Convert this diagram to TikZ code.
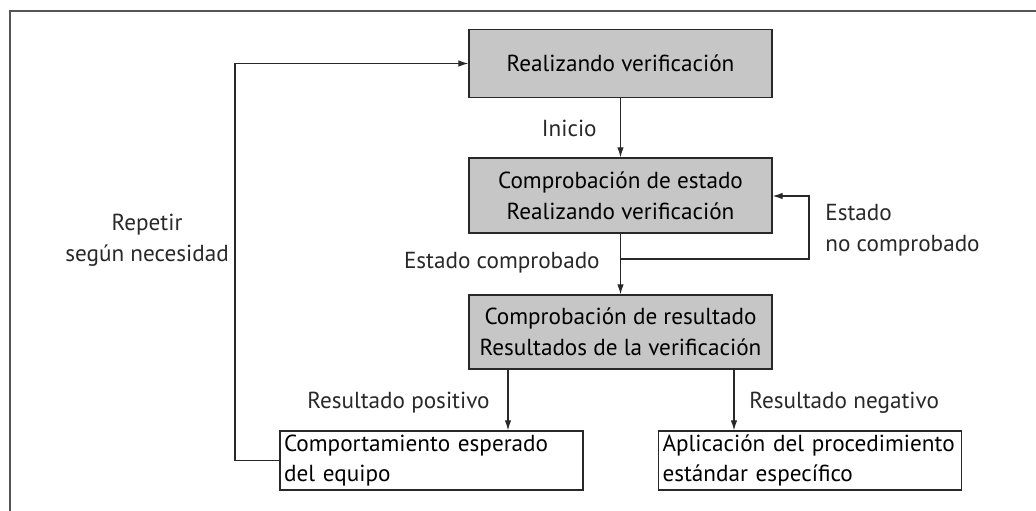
\documentclass[tikz,border=0pt]{standalone}
\usepackage{fontspec}
\setmainfont{PT Sans}
\usetikzlibrary{arrows.meta,positioning,calc}
\definecolor{ink}{RGB}{40,40,40}
\definecolor{frameink}{RGB}{85,85,85}
\definecolor{boxgray}{RGB}{198,198,198}
\newcommand{\diagfont}{\fontsize{13.2}{17.5}\selectfont}
\tikzset{
  stepgray/.style={draw=ink,line width=0.8pt,fill=boxgray,minimum width=6.06cm,
    minimum height=1.5cm,inner sep=2pt,align=center,font=\diagfont},
  outcome/.style={draw=ink,line width=0.8pt,fill=white,minimum width=6.06cm,
    minimum height=1.18cm,text width=5.9cm,inner xsep=0.08cm,inner ysep=0pt,
    align=left,font=\diagfont},
  link/.style={line width=0.6pt,ink},
  arr/.style={link,-{Latex[length=2mm,width=1.3mm]}},
  lbl/.style={font=\diagfont,text=ink,inner sep=0pt},
  frameline/.style={line width=1.2pt,frameink},
}

\begin{document}
\begin{tikzpicture}[x=0.02cm,y=-0.02cm]
  \useasboundingbox (0,0) rectangle (1036,511);
  \draw[frameline] (10,511) |- (1036,11);
  % boxes
  \node[stepgray,minimum height=1.36cm] (check) at (620.5,63.5) {Realizando verificación};
  \node[stepgray] (state) at (620.5,195.5) {Comprobación de estado\\Realizando verificación};
  \node[stepgray,minimum height=1.48cm] (result) at (620.5,332) {Comprobación de resultado\\Resultados de la verificación};
  \node[outcome] (expected) at (431.5,460.5) {Comportamiento esperado\\del equipo};
  \node[outcome] (standard) at (810,460.5) {Aplicación del procedimiento\\estándar específico};
  % helper points
  \coordinate (split) at (620.5,259);
  \coordinate (loopR) at (809,196);
  \coordinate (loopL) at (235,460.5);
  \coordinate (posX) at (508,0);
  \coordinate (negX) at (734,0);
  % connectors
  \draw[arr] (check) -- (state);
  \draw[arr] (state) -- (result);
  \draw[arr] (split) -| (loopR) -- (loopR -| state.east);
  \draw[arr] (posX |- result.south) -- (posX |- expected.north);
  \draw[arr] (negX |- result.south) -- (negX |- standard.north);
  \draw[arr] (expected.west) -- (loopL) |- (check.west);
  % labels
  \node[lbl,anchor=east] (start) at (597,128) {Inicio};
  \node[lbl,anchor=east] (stateok) at (600,263) {Estado comprobado};
  \node[lbl,anchor=west,align=left] (statenok) at (825,230) {Estado\\no comprobado};
  \node[lbl,anchor=east] (positive) at (490,403) {Resultado positivo};
  \node[lbl,anchor=west] (negative) at (749,403) {Resultado negativo};
  \node[lbl,align=center] (repeat) at (147,240) {Repetir\\según necesidad};
\end{tikzpicture}
\end{document}
